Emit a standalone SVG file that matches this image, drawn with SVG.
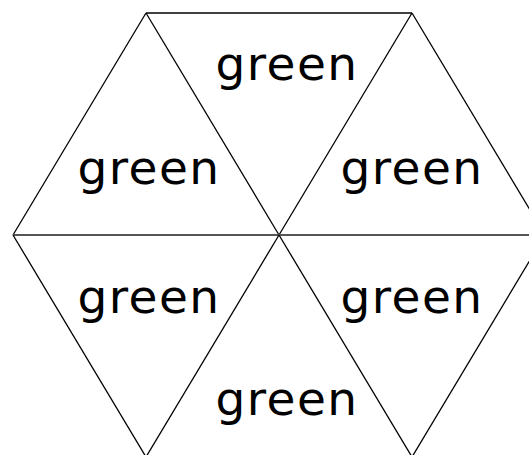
<svg xmlns="http://www.w3.org/2000/svg" width="529" height="455" viewBox="0 0 529 455">
<style>
.e{stroke:#000;stroke-width:1.3;fill:none}
.h{stroke:#555;stroke-width:2;fill:none}
text{font-family:"DejaVu Sans",sans-serif;font-size:47px;letter-spacing:1.5px;fill:#000;text-anchor:middle}
</style>
<rect width="529" height="455" fill="#fff"/>
<g id="connectors">
<line class="e" x1="146" y1="13" x2="412" y2="13"/>
<line class="e" x1="146" y1="13" x2="13" y2="235"/>
<line class="e" x1="146" y1="13" x2="279" y2="235"/>
<line class="e" x1="412" y1="13" x2="279" y2="235"/>
<line class="e" x1="412" y1="13" x2="545" y2="235"/>
<line class="h" x1="13" y1="235" x2="545" y2="235"/>
<line class="e" x1="13" y1="235" x2="146" y2="457"/>
<line class="e" x1="279" y1="235" x2="146" y2="457"/>
<line class="e" x1="279" y1="235" x2="412" y2="457"/>
<line class="e" x1="545" y1="235" x2="412" y2="457"/>
</g>
<g id="t1"><text x="287" y="80">green</text></g>
<g id="t2"><text x="149" y="184">green</text></g>
<g id="t3"><text x="412" y="184">green</text></g>
<g id="t4"><text x="149" y="313">green</text></g>
<g id="t5"><text x="412" y="313">green</text></g>
<g id="t6"><text x="287" y="415">green</text></g>
</svg>
